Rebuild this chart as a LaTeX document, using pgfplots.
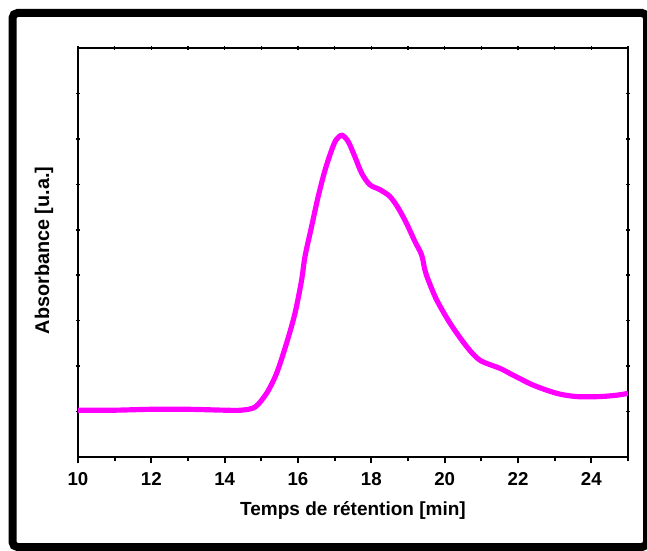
\documentclass[border=0pt]{standalone}
\usepackage{pgfplots}
\pgfplotsset{compat=1.18}
\usepackage{fontspec}
\setmainfont{Liberation Sans}
\definecolor{curve}{RGB}{255,0,255}
\begin{document}
\begin{tikzpicture}
\useasboundingbox (0,0) rectangle (388.2pt,330pt);
\draw[line width=4.8pt, rounded corners=3pt] (7.5pt,1.8pt) rectangle (388.2pt,322.2pt);
% background axis: small centred ticks on top and both sides
\begin{axis}[
  at={(46.8pt,55.8pt)}, anchor=south west,
  scale only axis, width=330pt, height=245.4pt,
  xmin=10, xmax=25, ymin=0, ymax=9,
  xtick={10,12,...,24}, minor xtick={11,13,...,25},
  ytick={1,2,...,8},
  xtick pos=right, ytick pos=both,
  tick align=center,
  major tick length=2.6pt, minor tick length=2.6pt,
  xticklabels={}, yticklabels={},
  axis line style={draw=none},
  tick style={black, line width=0.9pt},
]
\end{axis}
\begin{axis}[
  at={(46.8pt,55.8pt)}, anchor=south west,
  scale only axis, width=330pt, height=245.4pt,
  xmin=10, xmax=25, ymin=0, ymax=9,
  xtick={10,12,...,24}, minor xtick={11,13,...,25},
  ytick=\empty,
  xtick pos=left,
  tick align=outside,
  major tick length=3.8pt, minor tick length=2.6pt,
  axis line style={line width=1.2pt},
  tick style={black, line width=1.1pt},
  /pgf/number format/assume math mode=true,
  xticklabel style={font=\bfseries\fontsize{11.2}{13}\selectfont, yshift=-2pt},
  xlabel={Temps de rétention [min]},
  ylabel={Absorbance [u.a.]},
  xlabel style={font=\bfseries\fontsize{11.4}{13}\selectfont, at={(axis description cs:0.5,-0.144)}, anchor=base},
  ylabel style={font=\bfseries\fontsize{11.9}{13}\selectfont, at={(axis description cs:-0.0527,0.505)}, anchor=base},
]
\addplot[curve, line width=3.1pt, smooth, tension=0.5] coordinates {
(10.00,1.03) (11.00,1.03) (12.00,1.05) (13.00,1.05) (14.00,1.03)
(14.45,1.03) (14.83,1.10) (15.15,1.41) (15.42,1.85) (15.69,2.51)
(15.92,3.17) (16.10,3.90) (16.19,4.41) (16.37,5.07) (16.55,5.73)
(16.74,6.32) (16.92,6.76) (17.04,6.98) (17.20,7.08) (17.37,6.94)
(17.55,6.61) (17.74,6.24) (17.96,5.99) (18.24,5.88) (18.51,5.73)
(18.74,5.47) (18.96,5.14) (19.19,4.74) (19.37,4.45) (19.46,4.12)
(19.55,3.90) (19.78,3.46) (20.15,2.94) (20.60,2.43) (20.96,2.13)
(21.51,1.95) (21.87,1.80) (22.42,1.58) (23.06,1.40) (23.60,1.33)
(24.24,1.33) (24.69,1.36) (25.00,1.40)
};
\end{axis}
\end{tikzpicture}
\end{document}
